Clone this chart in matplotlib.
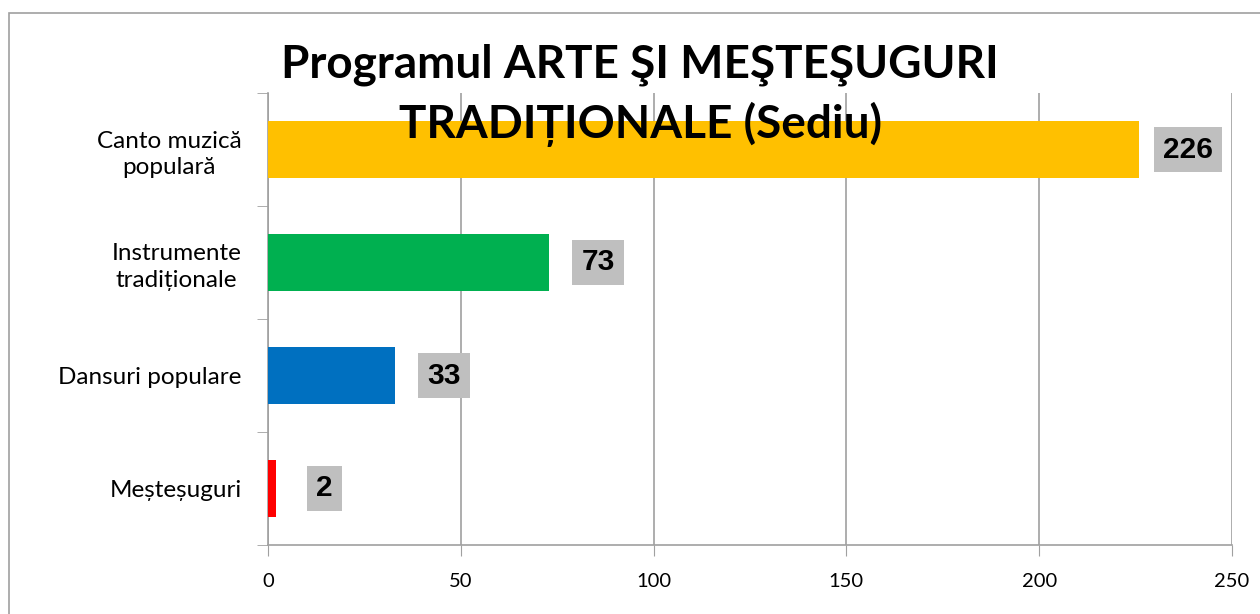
import numpy as np
import matplotlib.pyplot as plt
from matplotlib.patches import Rectangle

# Chart data
categories = ['Canto muzică\npopulară', 'Instrumente\ntradiționale', 'Dansuri populare', 'Meșteșuguri']
values = [226, 73, 33, 2]
bar_colors = ['#FFC000', '#00B050', '#0070C0', '#FF0000']
x_ticks = [0, 50, 100, 150, 200, 250]
title = 'Programul ARTE ŞI MEŞTEŞUGURI\nTRADIȚIONALE (Sediu)'

plt.rcParams['font.family'] = ['Lato', 'DejaVu Sans']

fig = plt.figure(figsize = (12.6, 6.14), dpi = 100)
ax = fig.add_axes([268 / 1260, 69 / 614, 964 / 1260, 452 / 614])

# Bars top to bottom
pos = np.arange(len(categories))[::-1]
ax.barh(pos, values, height = 0.5, color = bar_colors, zorder = 3)

# Value labels in gray boxes
for p, v in zip(pos, values):
    ax.annotate(str(v), xy = (v, p), xytext = (35, 0), textcoords = 'offset points',
                ha = 'center', va = 'center', fontsize = 21.5, fontweight = 'bold',
                family = 'Liberation Sans', color = 'black', zorder = 4,
                bbox = dict(boxstyle = 'square,pad=0.3', fc = '#BFBFBF', ec = 'none'))

ax.set_xlim(0, 250)
ax.set_ylim(-0.5, len(categories) - 0.5)
ax.set_xticks(x_ticks)
ax.set_xticklabels([str(t) for t in x_ticks], fontsize = 14.5)

ax.set_yticks(pos)
ax.set_yticklabels(categories, fontsize = 17.5, ha = 'right', multialignment = 'center',
                   linespacing = 1.3)
ax.set_yticks(np.arange(len(categories) + 1) - 0.5, minor = True)
ax.tick_params(axis = 'y', which = 'major', length = 0, pad = 19)
ax.tick_params(axis = 'y', which = 'minor', length = 8, color = '#A0A0A0', direction = 'out')
ax.tick_params(axis = 'x', length = 8, color = '#A0A0A0', pad = 12)

ax.grid(axis = 'x', color = '#A0A0A0', linewidth = 1.2, zorder = 0)
for side in ['top', 'right']:
    ax.spines[side].set_visible(False)
for side in ['left', 'bottom']:
    ax.spines[side].set_color('#A0A0A0')
    ax.spines[side].set_linewidth(1.2)

# Title overlaps the plot area
fig.text(0.508, 1 - 44 / 614, title, ha = 'center', va = 'top', fontsize = 33,
         fontweight = 'bold', linespacing = 1.42, zorder = 5)

# Outer chart border
fig.patches.append(Rectangle((9 / 1260, -0.1), 1.2, 1 - 13 / 614 + 0.1, transform = fig.transFigure,
                             fill = False, ec = '#A0A0A0', lw = 1.2))

fig.savefig('out.png', dpi = 100)
